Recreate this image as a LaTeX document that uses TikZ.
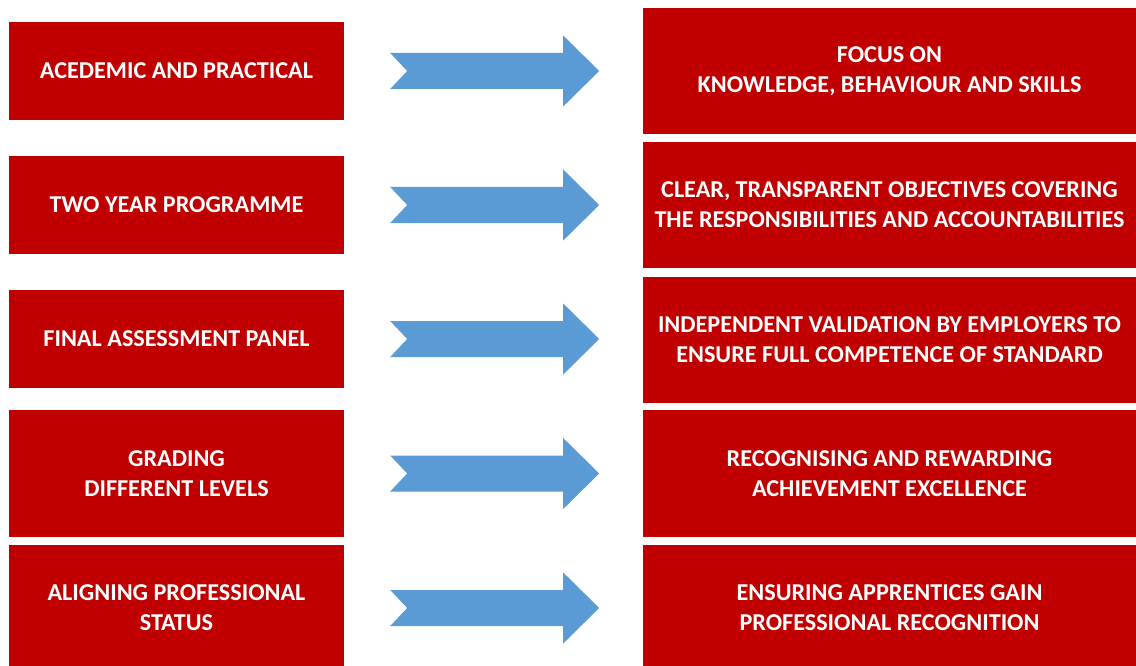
\documentclass[tikz,border=0pt]{standalone}
\usepackage{fontspec}
\setmainfont{Carlito}
\definecolor{boxred}{HTML}{C00000}
\definecolor{arrowblue}{HTML}{5B9BD5}
\tikzset{
  redbox/.style={fill=boxred, text=white, font=\bfseries\fontsize{24.2}{30}\selectfont,
    align=center, inner sep=0pt, minimum height=98pt},
  leftbox/.style={redbox, minimum width=335pt},
  rightbox/.style={redbox, minimum width=493pt, minimum height=126pt},
  blockarrow/.style={fill=arrowblue}
}
\begin{document}
\begin{tikzpicture}[x=1pt, y=-1pt]
\useasboundingbox (0,0) rectangle (1136,666);

% left column
\node[leftbox] (l1) at (176.5,71) {ACEDEMIC AND PRACTICAL};
\node[leftbox] (l2) at (176.5,205) {TWO YEAR PROGRAMME};
\node[leftbox] (l3) at (176.5,339) {FINAL ASSESSMENT PANEL};
\node[leftbox, minimum height=127pt] (l4) at (176.5,473.5) {GRADING\\DIFFERENT LEVELS};
\node[leftbox, minimum height=126pt] (l5) at (176.5,608) {ALIGNING PROFESSIONAL\\STATUS};

% right column
\node[rightbox] (r1) at (889.5,71) {FOCUS ON\\KNOWLEDGE, BEHAVIOUR AND SKILLS};
\node[rightbox] (r2) at (889.5,205) {CLEAR, TRANSPARENT OBJECTIVES COVERING\\THE RESPONSIBILITIES AND ACCOUNTABILITIES};
\node[rightbox] (r3) at (889.5,340) {INDEPENDENT VALIDATION BY EMPLOYERS TO\\ENSURE FULL COMPETENCE OF STANDARD};
\node[rightbox, minimum height=127pt] (r4) at (889.5,473.5) {RECOGNISING AND REWARDING\\ACHIEVEMENT EXCELLENCE};
\node[rightbox] (r5) at (889.5,608) {ENSURING APPRENTICES GAIN\\PROFESSIONAL RECOGNITION};

% block arrows
\foreach \i in {1,...,5}
  \fill[blockarrow] ([xshift=46pt]l\i.east) ++(0,-18) -- ++(173,0) -- ++(0,-17.5)
    -- ++(36,35.5) -- ++(-36,35.5) -- ++(0,-17.5) -- ++(-173,0) -- ++(17,-18) -- cycle;

\end{tikzpicture}
\end{document}
